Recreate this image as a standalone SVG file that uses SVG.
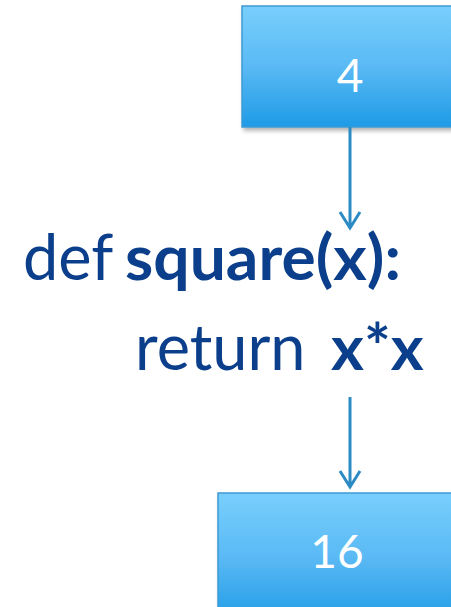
<svg xmlns="http://www.w3.org/2000/svg" width="451" height="607" viewBox="0 0 451 607">
<style>
.code{font-family:Lato,"Open Sans",sans-serif;font-size:63px;fill:#0b3f8b}
.b{font-weight:bold}
.lbl{font-family:Lato,"Open Sans",sans-serif;font-size:46px;fill:#ffffff;text-anchor:middle}
.box{fill:url(#g);stroke:#3d9ad3;stroke-width:1.5}
.conn{stroke:#2b8bc4;stroke-width:3;fill:none}
</style>
<defs>
<linearGradient id="g" x1="0" y1="0" x2="0" y2="1">
<stop offset="0" stop-color="#78cffd"/>
<stop offset="0.5" stop-color="#5ab9f4"/>
<stop offset="1" stop-color="#1e9be6"/>
</linearGradient>
<filter id="sh" x="-10%" y="-10%" width="130%" height="130%">
<feDropShadow dx="2" dy="3" stdDeviation="2" flood-color="#000" flood-opacity="0.3"/>
</filter>
</defs>
<g id="node-4">
<rect class="box" x="242" y="6" width="215" height="121" filter="url(#sh)"/>
<text class="lbl" x="350" y="92">4</text>
</g>
<g id="node-16">
<rect class="box" x="218" y="493" width="240" height="130" filter="url(#sh)"/>
<text class="lbl" x="337" y="568">16</text>
</g>
<g id="code">
<text class="code" x="23" y="280">def <tspan class="b" x="125" textLength="276" lengthAdjust="spacingAndGlyphs">square(x):</tspan></text>
<text class="code" x="135" y="370">return<tspan class="b" x="331">x*x</tspan></text>
</g>
<g id="connectors">
<path class="conn" d="M350 127 V228 M340 212 L350 228 L360 212"/>
<path class="conn" d="M350 397 V487 M340 471 L350 487 L360 471"/>
</g>
</svg>
